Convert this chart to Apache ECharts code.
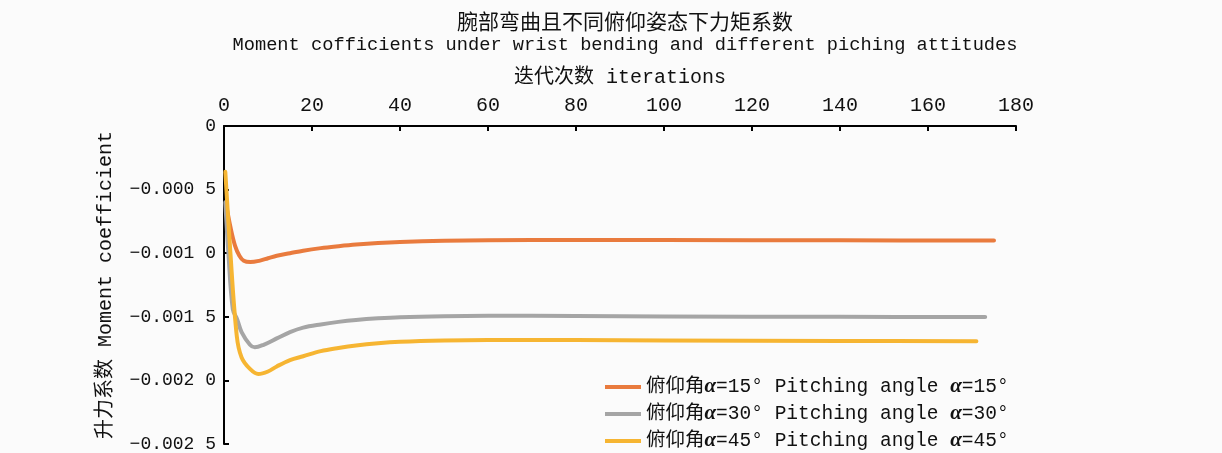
<!DOCTYPE html>
<html>
<head>
<meta charset="utf-8">
<script src="https://cdn.jsdelivr.net/npm/echarts@6/dist/echarts.min.js"></script>
<style>
  html, body { margin: 0; padding: 0; background: #fbfbfb; }
  #chart { width: 1222px; height: 453px; }
</style>
</head>
<body>
<div id="chart"></div>
<script>
// Iteration count and moment coefficient for each pitching angle
const names = [
  '俯仰角α=15° Pitching angle α=15°',
  '俯仰角α=30° Pitching angle α=30°',
  '俯仰角α=45° Pitching angle α=45°'
];
const colors = ['#E97B3E', '#A5A5A5', '#F6B532'];

const iter15 = [0.5, 1.5, 2.5, 3.5, 4.5, 6, 8, 10, 12, 15, 18, 22, 26, 30, 35, 40, 50, 60, 80, 100, 140, 175];
const coef15 = [-0.00062, -0.00080, -0.00094, -0.00102, -0.00106, -0.00107, -0.00106, -0.00104,
                -0.00102, -0.00100, -0.00098, -0.000960, -0.000945, -0.000932, -0.000920, -0.000912,
                -0.000903, -0.000898, -0.000896, -0.000897, -0.000899, -0.000900];

const iter30 = [0.3, 1, 2, 3, 4, 5.9, 7, 9, 12, 15, 18, 22, 26, 30, 35, 40, 50, 60, 80, 100, 140, 173];
const coef30 = [-0.00060, -0.00100, -0.00144, -0.00152, -0.00162, -0.00172, -0.00174, -0.00172,
                -0.00167, -0.00162, -0.001585, -0.00156, -0.00154, -0.001525, -0.001512, -0.001503,
                -0.001495, -0.001492, -0.001493, -0.001498, -0.001500, -0.001502];

const iter45 = [0.3, 1.4, 2.9, 4, 5.9, 7.8, 10, 12, 15, 18, 22, 26, 30, 35, 40, 50, 60, 80, 100, 140, 171];
const coef45 = [-0.00036, -0.00097, -0.00165, -0.00182, -0.00191, -0.00195, -0.00193, -0.00189,
                -0.00184, -0.00181, -0.00177, -0.001745, -0.001725, -0.001708, -0.001697, -0.001687,
                -0.001683, -0.001683, -0.001686, -0.001690, -0.001693];

const xTicks = [0, 20, 40, 60, 80, 100, 120, 140, 160, 180];
const yTicks = [0, -0.0005, -0.001, -0.0015, -0.002, -0.0025];
const yTickLabels = ['0', '−0.000 5', '−0.001 0', '−0.001 5', '−0.002 0', '−0.002 5'];

const mono = '"Liberation Mono", "Noto Sans CJK SC", monospace';

function pairs(xs, ys) { return xs.map((x, i) => [x, ys[i]]); }
const seriesData = [pairs(iter15, coef15), pairs(iter30, coef30), pairs(iter45, coef45)];

const chart = echarts.init(document.getElementById('chart'));
chart.setOption({
  backgroundColor: '#fbfbfb',
  animation: false,
  title: {
    text: '腕部弯曲且不同俯仰姿态下力矩系数',
    subtext: 'Moment cofficients under wrist bending and different piching attitudes',
    left: 620,
    textAlign: 'center',
    top: 6,
    itemGap: 4,
    textStyle: { fontFamily: '"Noto Sans CJK SC"', fontSize: 21, fontWeight: 'normal', color: '#111' },
    subtextStyle: { fontFamily: mono, fontSize: 18.7, color: '#111' }
  },
  legend: {
    orient: 'vertical',
    left: 605,
    top: 376,
    height: 120,
    padding: 0,
    itemGap: 5,
    itemWidth: 36,
    itemHeight: 4,
    icon: 'rect',
    data: names,
    formatter: n => n.replace(/α/g, '{a|α}'),
    textStyle: {
      fontFamily: mono, fontSize: 19.5, color: '#111', lineHeight: 22,
      rich: { a: { fontFamily: '"Liberation Serif"', fontStyle: 'italic', fontWeight: 'bold', fontSize: 21, color: '#111' } }
    }
  },
  grid: { left: 224, right: 206, top: 126, bottom: 7 },
  xAxis: {
    type: 'value',
    position: 'top',
    min: 0, max: 180, interval: 20,
    name: '迭代次数 iterations',
    nameLocation: 'middle',
    nameGap: 38,
    nameTextStyle: { fontFamily: mono, fontSize: 20, color: '#111' },
    axisLine: { show: true, lineStyle: { color: '#000', width: 2 } },
    axisTick: { show: true, inside: true, length: 5, lineStyle: { color: '#000', width: 2 } },
    axisLabel: { fontFamily: mono, fontSize: 20, color: '#111', margin: 10,
      formatter: v => xTicks.includes(v) ? String(v) : '' },
    splitLine: { show: false }
  },
  yAxis: {
    type: 'value',
    min: -0.0025, max: 0, interval: 0.0005,
    name: '升力系数 Moment coefficient',
    nameLocation: 'middle',
    nameGap: 108,
    nameRotate: 90,
    nameTextStyle: { fontFamily: mono, fontSize: 20, color: '#111' },
    axisLine: { show: true, onZero: false, lineStyle: { color: '#000', width: 2 } },
    axisTick: { show: true, inside: true, length: 5, lineStyle: { color: '#000', width: 2 } },
    axisLabel: { fontFamily: mono, fontSize: 18, color: '#111', margin: 8,
      formatter: v => {
        const i = yTicks.findIndex(t => Math.abs(t - v) < 1e-9);
        return i >= 0 ? yTickLabels[i] : '';
      } },
    splitLine: { show: false }
  },
  series: names.map((n, i) => ({
    name: n,
    type: 'line',
    data: seriesData[i],
    smooth: 0.35,
    showSymbol: false,
    color: colors[i],
    lineStyle: { width: 4, color: colors[i], cap: 'round', join: 'round' },
    z: 3 + i
  }))
});
</script>
</body>
</html>
